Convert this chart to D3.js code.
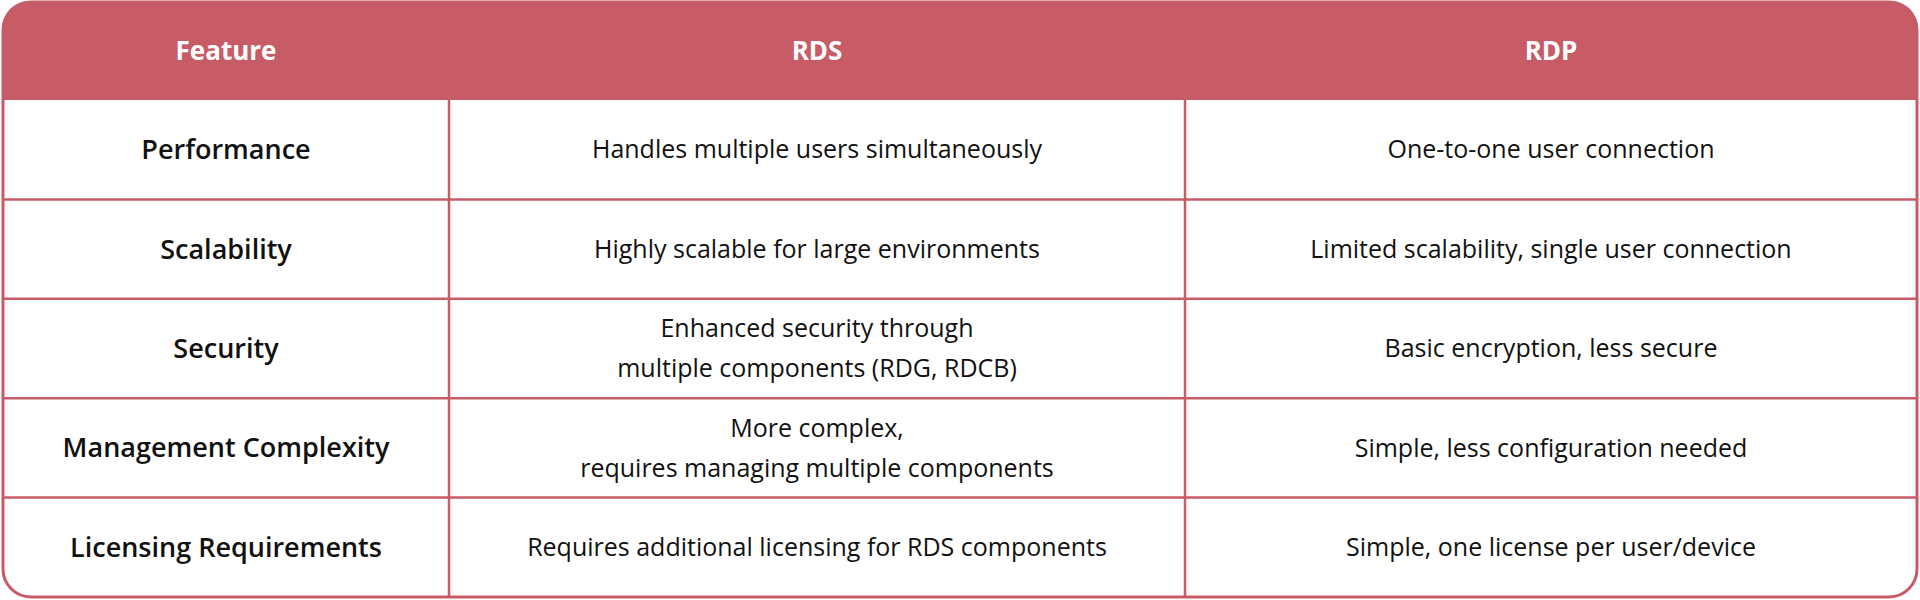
<!DOCTYPE html><html><head><meta charset="utf-8"><script src="https://cdn.jsdelivr.net/npm/d3@7"></script>
<style>body{margin:0;background:#fff}</style></head><body><svg id="c" width="1920" height="600"></svg>
<script>
const headers=["Feature","RDS","RDP"];
const features=["Performance","Scalability","Security","Management Complexity","Licensing Requirements"];
const rds=[["Handles multiple users simultaneously"],["Highly scalable for large environments"],["Enhanced security through","multiple components (RDG, RDCB)"],["More complex,","requires managing multiple components"],["Requires additional licensing for RDS components"]];
const rdp=[["One-to-one user connection"],["Limited scalability, single user connection"],["Basic encryption, less secure"],["Simple, less configuration needed"],["Simple, one license per user/device"]];
const col="#c75c67",font="'Open Sans', Lato, sans-serif";
const svg=d3.select("#c");
const L=3,R=1917,T=2,B=597,HB=100,r=28;
const x=d3.scaleLinear().domain([0,1,2,3]).range([L,449,1185,R]);
const y=d3.scaleLinear().domain([0,5]).range([HB,B]);
svg.append("rect").attr("x",L).attr("y",T).attr("width",R-L).attr("height",B-T).attr("rx",r).attr("fill","#fff").attr("stroke",col).attr("stroke-width",3);
svg.append("path").attr("d",`M${L},${HB}V${T+r}Q${L},${T} ${L+r},${T}H${R-r}Q${R},${T} ${R},${T+r}V${HB}Z`).attr("fill",col);
headers.forEach((h,i)=>svg.append("text").attr("x",(x(i)+x(i+1))/2).attr("y",(T+HB)/2).attr("dy","0.35em").attr("text-anchor","middle").attr("fill","#fff").attr("font-family",font).attr("font-weight","bold").attr("font-size",26).text(h));
for(let k=1;k<5;k++)svg.append("line").attr("x1",L).attr("x2",R).attr("y1",y(k)).attr("y2",y(k)).attr("stroke",col).attr("stroke-width",2.5);
[1,2].forEach(i=>svg.append("line").attr("x1",x(i)).attr("x2",x(i)).attr("y1",HB).attr("y2",B).attr("stroke",col).attr("stroke-width",2.5));
function cell(lines,c,rw,bold,size){const cy=(y(rw)+y(rw+1))/2,lh=size*1.6;
lines.forEach((t,j)=>svg.append("text").attr("x",(x(c)+x(c+1))/2).attr("y",cy+(j-(lines.length-1)/2)*lh).attr("dy","0.35em").attr("text-anchor","middle").attr("fill","#111").attr("font-family",font).attr("font-weight",bold?"600":"normal").attr("font-size",size).text(t));}
features.forEach((f,i)=>{cell([f],0,i,true,27);cell(rds[i],1,i,false,25);cell(rdp[i],2,i,false,25);});
</script></body></html>
